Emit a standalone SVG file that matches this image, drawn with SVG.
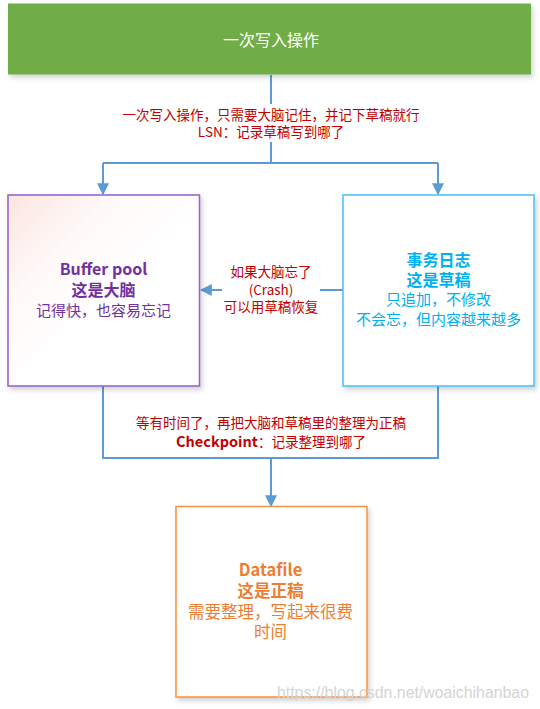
<svg xmlns="http://www.w3.org/2000/svg" width="540" height="709" viewBox="0 0 540 709">
<style>
text{font-family:"Microsoft YaHei","Noto Sans CJK SC","Noto Sans",sans-serif;text-anchor:middle}
.lbl{fill:#c00000;font-size:13.5px}
.conn{fill:none;stroke:#5b9bd5;stroke-width:2}
.box{stroke-width:1.6}
.wm{fill:#d4d4d4;font-size:16px;font-family:"Liberation Sans",Arial,sans-serif;text-anchor:start}
</style>
<defs>
<marker id="arr" viewBox="0 0 10 10" refX="9" refY="5" markerWidth="6" markerHeight="6" markerUnits="strokeWidth" orient="auto">
<path d="M0,0 L10,5 L0,10 z" fill="#5b9bd5"/>
</marker>
<linearGradient id="pinkg" x1="0" y1="0" x2="0.6" y2="0.6">
<stop offset="0" stop-color="#fbe5df"/>
<stop offset="0.5" stop-color="#fffafa"/>
<stop offset="1" stop-color="#ffffff"/>
</linearGradient>
<filter id="sh" x="-10%" y="-10%" width="125%" height="125%">
<feDropShadow dx="2" dy="3" stdDeviation="2.5" flood-color="#000" flood-opacity="0.18"/>
</filter>
</defs>

<g id="connectors">
<path class="conn" d="M271,75 V163 M103,163 H438" />
<path class="conn" d="M103,163 V194" marker-end="url(#arr)"/>
<path class="conn" d="M438,163 V194" marker-end="url(#arr)"/>
<path class="conn" d="M343,290 H201" marker-end="url(#arr)"/>
<path class="conn" d="M103,386 V458 H438 V386 M271,458 V506"/>
<path class="conn" d="M271,470 V506" marker-end="url(#arr)"/>
<rect x="110" y="104" width="320" height="38" fill="#fff"/>
<rect x="222" y="262" width="98" height="54" fill="#fff"/>
<text class="lbl" x="271" y="119.5">一次写入操作，只需要大脑记住，并记下草稿就行</text>
<text class="lbl" x="271" y="136.5">LSN：记录草稿写到哪了</text>
<text class="lbl" x="271" y="276.5">如果大脑忘了</text>
<text class="lbl" x="271" y="294.5">(Crash)</text>
<text class="lbl" x="271" y="311.5">可以用草稿恢复</text>
<text class="lbl" x="271" y="427.5">等有时间了，再把大脑和草稿里的整理为正稿</text>
<text class="lbl" x="271" y="446.5"><tspan font-weight="bold" font-size="14.5">Checkpoint</tspan>：记录整理到哪了</text>
</g>

<g id="n_write">
<rect x="8" y="3.5" width="523" height="71" fill="#70ad47" filter="url(#sh)"/>
<text x="271" y="45.5" fill="#ffffff" font-size="16">一次写入操作</text>
</g>

<g id="n_buffer">
<rect class="box" x="8" y="195" width="191.5" height="191" fill="url(#pinkg)" stroke="#9966cc" filter="url(#sh)"/>
<text x="103.5" y="274.5" fill="#7030a0" font-size="16" font-weight="bold">Buffer pool</text>
<text x="103.5" y="295.5" fill="#7030a0" font-size="16" font-weight="bold">这是大脑</text>
<text x="103.5" y="315.5" fill="#7030a0" font-size="15">记得快，也容易忘记</text>
</g>

<g id="n_log">
<rect class="box" x="343" y="195" width="191" height="191" fill="#ffffff" stroke="#4fc3f7" filter="url(#sh)"/>
<text x="438.5" y="265.5" fill="#00b0f0" font-size="16" font-weight="bold">事务日志</text>
<text x="438.5" y="285.5" fill="#00b0f0" font-size="16" font-weight="bold">这是草稿</text>
<text x="438.5" y="304.5" fill="#00b0f0" font-size="15">只追加，不修改</text>
<text x="438.5" y="324.5" fill="#00b0f0" font-size="15">不会忘，但内容越来越多</text>
</g>

<g id="n_datafile">
<rect class="box" x="176" y="506.5" width="191" height="190.5" fill="#ffffff" stroke="#f79646" filter="url(#sh)"/>
<text x="270.5" y="576" fill="#ed7d31" font-size="16.5" font-weight="bold">Datafile</text>
<text x="270.5" y="597" fill="#ed7d31" font-size="16.5" font-weight="bold">这是正稿</text>
<text x="270.5" y="618" fill="#ed7d31" font-size="16.5">需要整理，写起来很费</text>
<text x="270.5" y="638" fill="#ed7d31" font-size="16.5">时间</text>
</g>

<text class="wm" x="277" y="698" textLength="252" lengthAdjust="spacingAndGlyphs">https://blog.csdn.net/woaichihanbao</text>
</svg>
